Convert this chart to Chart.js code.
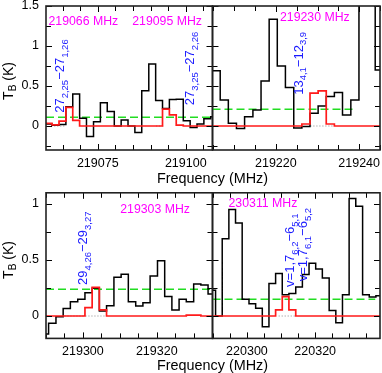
<!DOCTYPE html>
<html lang="en">
<head>
  <meta charset="UTF-8" />
  <title>Line spectra</title>
  <script src="https://cdn.jsdelivr.net/npm/chart.js"></script>
  <style>
    html, body { margin: 0; padding: 0; background: #fff; }
    #wrap { position: relative; width: 382px; height: 373px; overflow: hidden;
            font-family: "Liberation Sans", Arial, sans-serif; color: #000; }
    #wrap canvas { position: absolute; left: 0; top: 0; }
    .xtitle { position: absolute; font-size: 14.4px; line-height: 1; white-space: nowrap;
              transform: translateX(-50%); }
    .ytitle { position: absolute; font-size: 14px; line-height: 1; white-space: nowrap;
              transform: translate(-50%, -50%) rotate(-90deg); }
    .ytitle sub { font-size: 10px; vertical-align: -3px; line-height: 0; }
  </style>
</head>
<body>
<div id="wrap">
  <canvas id="pA" width="382" height="373" style="width:382px;height:373px"></canvas>
  <canvas id="pB" width="382" height="373" style="width:382px;height:373px"></canvas>
  <canvas id="pC" width="382" height="373" style="width:382px;height:373px"></canvas>
  <canvas id="pD" width="382" height="373" style="width:382px;height:373px"></canvas>
  <div class="xtitle" style="left:212.5px;top:171px">Frequency (MHz)</div>
  <div class="xtitle" style="left:212.5px;top:358px">Frequency (MHz)</div>
  <div class="ytitle" style="left:8px;top:81px">T<sub>B</sub> (K)</div>
  <div class="ytitle" style="left:8px;top:260px">T<sub>B</sub> (K)</div>
</div>

<script>
// ---- panel A: 219066 / 219095 MHz ----
const freqA = [219061.0, 219063.0, 219065.0, 219066.9, 219068.9, 219070.8, 219072.8, 219074.8,
               219076.7, 219078.7, 219080.7, 219082.6, 219084.6, 219086.5, 219088.5, 219090.5,
               219092.4, 219094.4, 219096.3, 219098.3, 219100.3, 219102.2, 219104.2, 219106.1, 219108.1];
const obsA = [0.025, 0.01, 0.02, 0.24, 0.40, 0.096, -0.13, 0.054, 0.29, 0.18, 0.0, 0.075, 0.0,
              -0.08, 0.44, 0.775, 0.32, 0.22, 0.33, 0.335, 0.066, -0.02, 0.025, 0.09, 0.115];
const modA = [0.033, 0.013, 0.06, 0.233, 0.07, 0, 0, 0, 0, 0, 0, 0, 0,
              0, 0, 0, 0, 0.21, 0.138, 0.012, 0, 0, 0, 0, 0];
const rmsA = 0.108;
const dotsA = [[219061.8, 219065.5], [219091.6, 219093.6]];
const xTicksA = [219075, 219100];

// ---- panel B: 219230 MHz ----
const freqB = [219205.7, 219207.6, 219209.6, 219211.5, 219213.5, 219215.5, 219217.4, 219219.4,
               219221.3, 219223.3, 219225.3, 219227.2, 219229.2, 219231.1, 219233.1, 219235.0,
               219237.0, 219239.0, 219240.9, 219242.9, 219244.8];
const obsB = [0.69, 0.325, 0.033, -0.03, 0.117, 0.2, 0.5625, 1.334, 0.75, 0.48, -0.025,
              -0.005, 0.16, 0.25, 0.37, 0.42, 0.1375, 0.325, 1.8, 1.75, 0.7];
const modB = [0, 0, 0, 0, 0, 0, 0, 0, 0, 0, 0, 0.025, 0.41, 0.44, 0.025, 0, 0, 0, 0, 0, 0];
const rmsB = 0.21;
const dotsB = [[219228.3, 219233.8]];
const xTicksB = [219220, 219240];

// ---- panel C: 219303 MHz ----
const freqC = [219289.7, 219291.7, 219293.7, 219295.6, 219297.6, 219299.6, 219301.5, 219303.5,
               219305.4, 219307.4, 219309.4, 219311.3, 219313.3, 219315.3, 219317.2, 219319.2,
               219321.2, 219323.1, 219325.1, 219327.0, 219329.0, 219331.0, 219332.9, 219334.9];
const obsC = [-0.16, -0.065, -0.006, 0.068, 0.128, 0.149, 0.208, 0.247, 0.045, 0.092, 0.345,
              0.372, 0.128, 0.089, 0.119, 0.357, 0.494, 0.173, 0.054, 0.149, 0.128, 0.286, 0.277, 0.196];
const modC = [0, 0, 0, 0, 0, 0, 0.075, 0.256, 0.055, 0, 0, 0, 0, 0, 0, 0, 0, 0, 0, 0,
              0.008, 0.008, 0, 0];
const rmsC = 0.238;
const dotsC = [[219295.0, 219306.0]];
const xTicksC = [219300, 219320];

// ---- panel D: 230311 MHz ----
const freqD = [220289.8, 220291.8, 220293.7, 220295.7, 220297.6, 220299.6, 220301.6, 220303.5,
               220305.5, 220307.4, 220309.4, 220311.3, 220313.3, 220315.3, 220317.2, 220319.2,
               220321.1, 220323.1, 220325.1, 220327.0, 220329.0, 220330.9, 220332.9, 220334.9,
               220336.8, 220338.8];
const obsD = [0.23, 0.0, 0.69, 0.95, 0.83, 0.15, 0.11, 0.07, -0.095, 0.29, 0.38, 0.19, 0.2,
              0.26, 0.37, 0.47, 0.42, 0.34, 0.05, -0.06, 0.19, 1.05, 0.98, 0.19, 0.17, 0.18];
const modD = [0, 0, 0, 0, 0, 0, 0, 0, 0, 0, 0.054, 0.173, 0.054, 0, 0, 0, 0, 0, 0, 0,
              0, 0, 0, 0, 0, 0];
const rmsD = 0.149;
const dotsD = [[220309.3, 220314.3]];
const xTicksD = [220300, 220320];

const yTicksTop = [0, 0.5, 1, 1.5];
const yTicksBot = [0, 0.5, 1];

const FONT = '"Liberation Sans", Arial, sans-serif';

// histogram: one flat step per channel, outer channels drawn full width
function histo(freqs, vals) {
  const half = (freqs[1] - freqs[0]) / 2;
  const pts = freqs.map((f, i) => ({ x: f, y: vals[i] }));
  pts.unshift({ x: freqs[0] - half, y: vals[0] });
  pts.push({ x: freqs[freqs.length - 1] + half, y: vals[vals.length - 1] });
  return pts;
}

function dotted(ranges) {
  const pts = [];
  ranges.forEach(r => { pts.push({ x: r[0], y: 0 }, { x: r[1], y: 0 }, { x: r[1], y: null }); });
  return pts;
}

function drawParts(ctx, parts, size, sub) {
  let dx = 0;
  parts.forEach(([s, isSub]) => {
    ctx.font = (isSub ? sub : size) + 'px ' + FONT;
    ctx.fillText(s, dx, isSub ? size * 0.3 : 0);
    dx += ctx.measureText(s).width;
  });
}

const framePlugin = {
  id: 'frame',
  afterDatasetsDraw(chart, args, opts) {
    const { ctx, chartArea: a } = chart;
    const x = chart.scales.x, y = chart.scales.y;
    ctx.save();

    // inward ticks on all four sides
    ctx.strokeStyle = '#000';
    ctx.lineWidth = 1;
    ctx.beginPath();
    for (let v = Math.ceil(x.min / 5) * 5; v <= x.max; v += 5) {
      const px = Math.round(x.getPixelForValue(v)) + 0.5;
      const len = opts.xMajor.includes(v) ? 6 : 5;
      ctx.moveTo(px, a.bottom); ctx.lineTo(px, a.bottom - len);
      ctx.moveTo(px, a.top); ctx.lineTo(px, a.top + len);
    }
    for (let k = Math.ceil(y.min / 0.25); k * 0.25 <= y.max + 1e-9; k++) {
      const py = Math.round(y.getPixelForValue(k * 0.25)) + 0.5;
      const len = k % 2 === 0 ? 6 : 5;
      ctx.moveTo(a.left, py); ctx.lineTo(a.left + len, py);
      ctx.moveTo(a.right, py); ctx.lineTo(a.right - len, py);
    }
    ctx.stroke();

    // frequency captions
    ctx.fillStyle = '#ff00ff';
    ctx.textBaseline = 'middle';
    ctx.font = '12.3px ' + FONT;
    opts.captions.forEach(c => {
      ctx.fillText(c.text, x.getPixelForValue(c.x), y.getPixelForValue(c.y));
    });

    // transition labels, rotated
    ctx.fillStyle = '#1a1aff';
    ctx.textBaseline = 'alphabetic';
    opts.lines.forEach(l => {
      ctx.save();
      ctx.translate(x.getPixelForValue(l.x), y.getPixelForValue(l.y));
      ctx.rotate(-Math.PI / 2);
      drawParts(ctx, l.parts, 13, 9.5);
      ctx.restore();
    });

    // frame
    ctx.lineWidth = 1.6;
    ctx.strokeStyle = '#222';
    ctx.strokeRect(a.left, a.top, a.right - a.left, a.bottom - a.top);
    ctx.restore();
  }
};

const X_AXIS_H = 22;

function makePanel(id, p) {
  const datasets = [
    { data: histo(p.freq, p.mod), borderColor: '#ff1a1a', borderWidth: 1.7, stepped: 'middle', order: 0 },
    { data: histo(p.freq, p.obs), borderColor: '#000', borderWidth: 1.5, stepped: 'middle', order: 1 },
    { data: [{ x: p.xMin, y: p.rms }, { x: p.rmsEnd, y: p.rms }], borderColor: '#22dd22',
      borderWidth: 1.5, borderDash: [8, 4], order: 2 },
    { data: dotted(p.dots), borderColor: '#8a8a8a', borderWidth: 1, borderDash: [1, 2],
      spanGaps: false, order: 3 }
  ];
  datasets.forEach(d => { d.pointRadius = 0; d.fill = false; d.tension = 0; });

  const yW = p.yLabels ? p.area.left : 0;
  return new Chart(document.getElementById(id), {
    type: 'line',
    data: { datasets },
    options: {
      responsive: false,
      animation: false,
      events: [],
      layout: {
        padding: {
          left: p.area.left - yW,
          top: p.area.top,
          right: 382 - p.area.right,
          bottom: 373 - p.area.bottom - X_AXIS_H
        }
      },
      plugins: {
        legend: { display: false },
        tooltip: { enabled: false },
        frame: { xMajor: p.xTicks, captions: p.captions, lines: p.lines }
      },
      scales: {
        x: {
          type: 'linear', min: p.xMin, max: p.xMax,
          grid: { display: false, drawTicks: false },
          border: { display: false },
          ticks: { color: '#000', font: { size: 12.5, family: FONT }, padding: 6,
                   maxRotation: 0, autoSkip: false, callback: v => String(v) },
          afterBuildTicks: s => { s.ticks = p.xTicks.map(v => ({ value: v })); },
          afterFit: s => { s.height = X_AXIS_H; s.paddingLeft = 0; s.paddingRight = 0; }
        },
        y: {
          min: p.yMin, max: p.yMax,
          grid: { display: false, drawTicks: false },
          border: { display: false },
          ticks: { display: p.yLabels, color: '#000', font: { size: 12.5, family: FONT },
                   padding: 7, autoSkip: false, callback: v => String(v) },
          afterBuildTicks: s => { s.ticks = p.yTicks.map(v => ({ value: v })); },
          afterFit: s => { s.width = yW; s.paddingTop = 0; s.paddingBottom = 0; }
        }
      }
    },
    plugins: [framePlugin]
  });
}

window.onload = function () {
  makePanel('pA', {
    freq: freqA, obs: obsA, mod: modA, rms: rmsA, dots: dotsA, xTicks: xTicksA,
    xMin: 219060.3, xMax: 219107.6, rmsEnd: 219107.6, yMin: -0.3, yMax: 1.5,
    yTicks: yTicksTop, yLabels: true,
    area: { left: 46, top: 6, right: 212.5, bottom: 150 },
    captions: [{ text: '219066 MHz', x: 219061.0, y: 1.30 }, { text: '219095 MHz', x: 219084.8, y: 1.30 }],
    lines: [
      { x: 219065.4, y: 0.165, parts: [['27', 0], ['2,25', 1], ['\u221227', 0], ['1,26', 1]] },
      { x: 219102.4, y: 0.26, parts: [['27', 0], ['3,25', 1], ['\u221227', 0], ['2,26', 1]] }
    ]
  });
  makePanel('pB', {
    freq: freqB, obs: obsB, mod: modB, rms: rmsB, dots: dotsB, xTicks: xTicksB,
    xMin: 219204.8, xMax: 219245.0, rmsEnd: 219239.0, yMin: -0.3, yMax: 1.5,
    yTicks: yTicksTop, yLabels: false,
    area: { left: 212.5, top: 6, right: 380, bottom: 150 },
    captions: [{ text: '219230 MHz', x: 219221.0, y: 1.35 }],
    lines: [
      { x: 219226.4, y: 0.39, parts: [['13', 0], ['4,1', 1], ['\u221212', 0], ['3,9', 1]] }
    ]
  });
  makePanel('pC', {
    freq: freqC, obs: obsC, mod: modC, rms: rmsC, dots: dotsC, xTicks: xTicksC,
    xMin: 219290.0, xMax: 219335.1, rmsEnd: 219335.1, yMin: -0.2, yMax: 1.1,
    yTicks: yTicksBot, yLabels: true,
    area: { left: 46, top: 192.8, right: 212.5, bottom: 338.4 },
    captions: [{ text: '219303 MHz', x: 219310.1, y: 0.946 }],
    lines: [
      { x: 219301.2, y: 0.277, parts: [['29', 0], ['4,26', 1], ['\u221229', 0], ['3,27', 1]] }
    ]
  });
  makePanel('pD', {
    freq: freqD, obs: obsD, mod: modD, rms: rmsD, dots: dotsD, xTicks: xTicksD,
    xMin: 220289.9, xMax: 220339.0, rmsEnd: 220337.6, yMin: -0.2, yMax: 1.1,
    yTicks: yTicksBot, yLabels: false,
    area: { left: 212.5, top: 192.8, right: 380, bottom: 338.4 },
    captions: [{ text: '230311 MHz', x: 220294.6, y: 1.0 }],
    lines: [
      { x: 220313.8, y: 0.26, parts: [['v=1,7', 0], ['6,2', 1], ['\u22126', 0], ['5,1', 1]] },
      { x: 220317.5, y: 0.31, parts: [['v=1,7', 0], ['6,1', 1], ['\u22126', 0], ['5,2', 1]] }
    ]
  });
};
</script>
</body>
</html>
